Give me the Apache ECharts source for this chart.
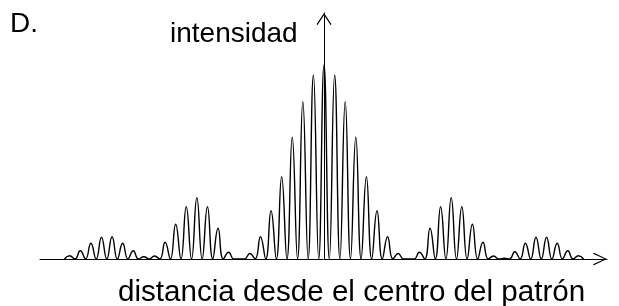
<!DOCTYPE html>
<html>
<head>
<meta charset="utf-8">
<script src="https://cdn.jsdelivr.net/npm/echarts@6/dist/echarts.min.js"></script>
<style>
  html, body { margin: 0; padding: 0; background: #fff; }
  #chart { width: 619px; height: 306px; }
</style>
</head>
<body>
<div id="chart"></div>
<script>
// fringe order (distance from centre, in fringe spacings)
const orders = [-24, -23, -22, -21, -20, -19, -18, -17, -16, -15, -14, -13, -12, -11, -10, -9, -8, -7, -6, -5, -4, -3, -2, -1,
    0, 1, 2, 3, 4, 5, 6, 7, 8, 9, 10, 11, 12, 13, 14, 15, 16, 17, 18, 19, 20, 21, 22, 23, 24]
// peak height of each bright fringe
const peaks = [3.3, 8.3, 15.7, 21.7, 22.3, 15.7, 8.3, 2.3, 3, 16.7, 34.7, 52.3, 61.3, 52.3, 30.7, 6.7, 0, 5.5, 22.3, 48.3, 82.3, 121.7, 157.3, 184,
    194, 184, 157.3, 121.7, 82.3, 48.3, 22.3, 5.5, 0, 6.7, 30.7, 52.3, 61.3, 52.3, 34.7, 16.7, 3, 0.8, 7.3, 15.7, 21.7, 21.7, 15.7, 8.3, 3.3]
// dark fringes in between go down to zero
const darkLevel = 0

const xLabel = 'distancia desde el centro del patrón'
const yLabel = 'intensidad'
const tag = 'D.'

let curve = []
orders.forEach((k, i) => {
    if (i === 0) curve.push([k - 0.5, darkLevel])
    curve.push([k, peaks[i]])
    curve.push([k + 0.5, darkLevel])
})

const font = '"Liberation Sans", Arial, sans-serif'
const arrowX = 'path://M6.3,0 L12.6,13.2 L11.6,14 L6.3,2.4 L1,14 L0,13.2 Z'
const arrowY = 'path://M7.5,0 L15,11.2 L14,12 L7.5,2.2 L1,12 L0,11.2 Z'

let chart = echarts.init(document.getElementById('chart'))
let option = {
    animation: false,
    grid: {left: 40, right: 12, top: 13, bottom: 47},
    xAxis: {
        type: 'value',
        min: -26.8,
        max: 26.7,
        axisLine: {
            show: true,
            symbol: ['none', arrowX],
            symbolSize: [12.6, 14],
            symbolOffset: [0, -7],
            lineStyle: {color: '#000', width: 1}
        },
        axisTick: {show: false},
        axisLabel: {show: false},
        splitLine: {show: false}
    },
    yAxis: {
        type: 'value',
        min: 0,
        max: 246,
        axisLine: {
            show: true,
            onZero: true,
            symbol: ['none', arrowY],
            symbolSize: [15, 12],
            symbolOffset: [0, -6],
            lineStyle: {color: '#000', width: 1}
        },
        axisTick: {show: false},
        axisLabel: {show: false},
        splitLine: {show: false}
    },
    graphic: [
        {type: 'text', left: 10, top: 10, style: {text: tag, font: '28px ' + font, fill: '#000'}},
        {type: 'text', left: 170, top: 20, style: {text: yLabel, font: '28px ' + font, fill: '#000'}},
        {type: 'text', left: 118, top: 278, style: {text: xLabel, font: '29.6px ' + font, fill: '#000'}}
    ],
    series: [
        {
            type: 'line',
            data: curve,
            smooth: 0.5,
            showSymbol: false,
            lineStyle: {color: '#000', width: 1.4}
        }
    ]
}
chart.setOption(option)
</script>
</body>
</html>
